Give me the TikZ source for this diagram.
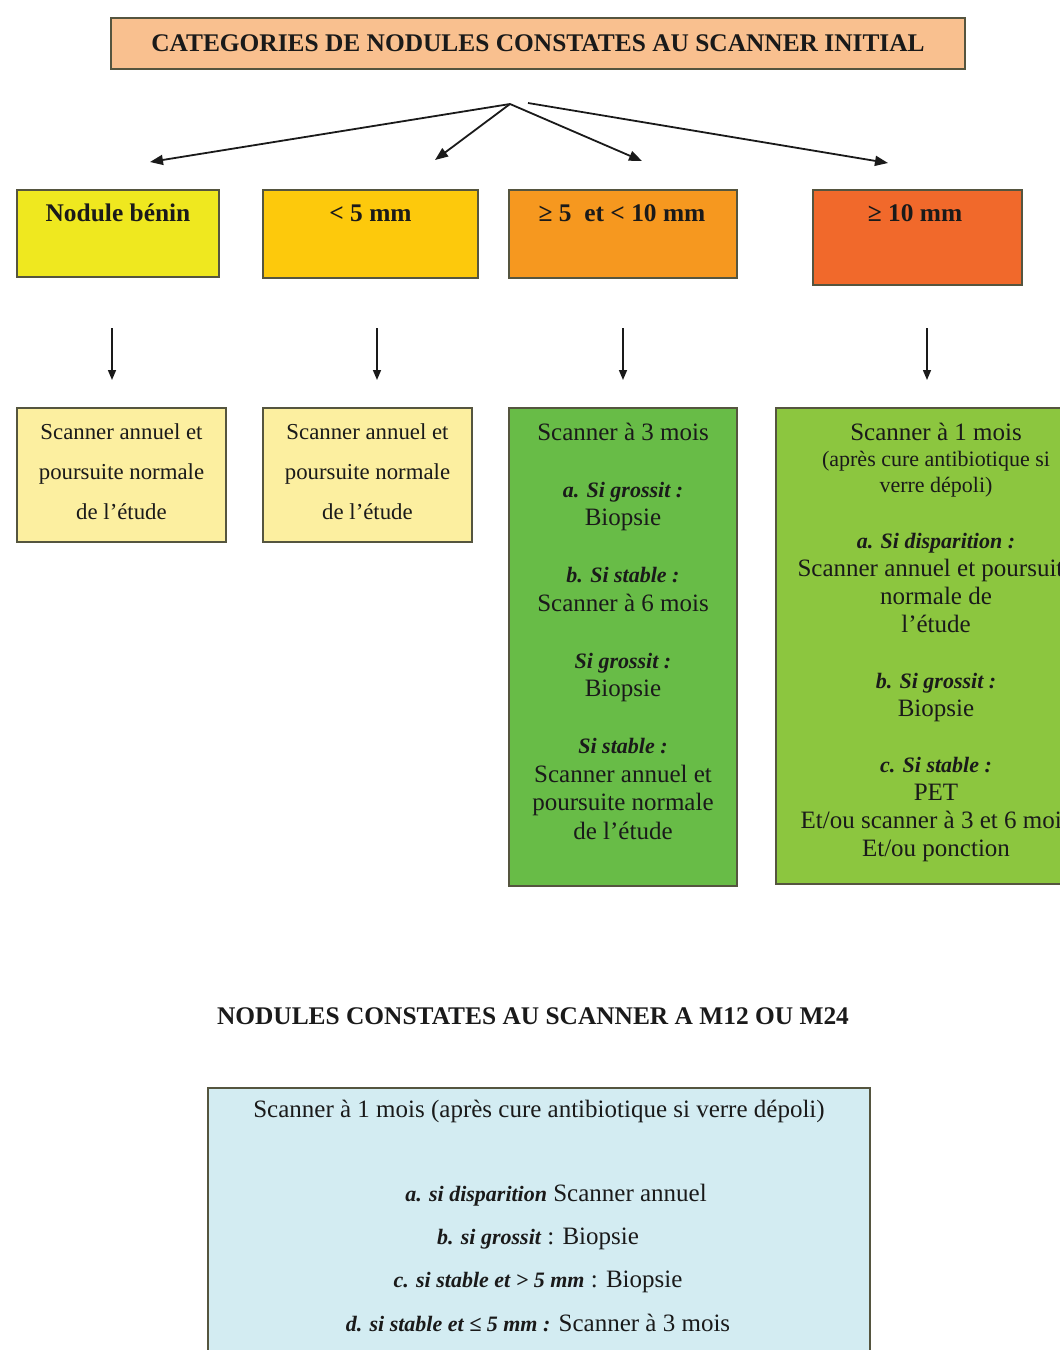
\documentclass[tikz,border=0pt]{standalone}
\usepackage{fontspec}
\setmainfont{Liberation Serif}
\usetikzlibrary{arrows.meta}
\definecolor{titlefill}{HTML}{F9C08F}
\definecolor{catA}{HTML}{EFE81F}
\definecolor{catB}{HTML}{FDC90C}
\definecolor{catC}{HTML}{F6981F}
\definecolor{catD}{HTML}{F1692B}
\definecolor{paleyel}{HTML}{FCEFA0}
\definecolor{greenC}{HTML}{68BC47}
\definecolor{greenD}{HTML}{8CC63F}
\definecolor{paleblue}{HTML}{D3ECF2}
\definecolor{edge}{HTML}{55553F}
\definecolor{ink}{HTML}{1A1A1A}
\newcommand\bitx[1]{{\fontsize{22}{28}\selectfont\bfseries\itshape #1}}
\begin{document}
\begin{tikzpicture}[x=1pt,y=-1pt,
  box/.style={draw=edge, line width=1.5pt, inner sep=0pt, outer sep=0pt},
  txt/.style={anchor=base, inner sep=0pt, align=center, text=ink},
  body/.style={font=\fontsize{25}{28.5}\selectfont},
  head/.style={font=\fontsize{25.4}{28}\selectfont\bfseries},
  fan/.style={line width=1.8pt, draw=ink, -{Triangle[length=13pt,width=10pt]}},
  downarr/.style={line width=1.5pt, draw=ink, -{Triangle[length=10pt,width=8pt]}}]
\clip (0,0) rectangle (1060,1350);
\useasboundingbox (0,0) rectangle (1060,1350);
\fill[white] (0,0) rectangle (1060,1350);

% title
\node[box, fill=titlefill, minimum width=854pt, minimum height=51pt] (title) at (538,43.5) {};
\node[txt, head] (titletxt) at (538,51) {CATEGORIES DE NODULES CONSTATES AU SCANNER INITIAL};

% fan arrows
\coordinate (hubA) at (510,104);
\coordinate (hubB) at (528,103);
\coordinate (endA) at (150,162);
\coordinate (endB) at (435,160);
\coordinate (endC) at (642,161);
\coordinate (endD) at (888,163);
\draw[fan] (hubA) -- (endA);
\draw[fan] (hubA) -- (endB);
\draw[fan] (hubA) -- (endC);
\draw[fan] (hubB) -- (endD);

% category boxes
\node[box, fill=catA, minimum width=202pt, minimum height=87pt] (catA) at (118,233.5) {};
\node[box, fill=catB, minimum width=215pt, minimum height=88pt] (catB) at (370.5,234) {};
\node[box, fill=catC, minimum width=228pt, minimum height=88pt] (catC) at (623,234) {};
\node[box, fill=catD, minimum width=209pt, minimum height=95pt] (catD) at (917.5,237.5) {};
\node[txt, head] (catAtxt) at (118,221) {Nodule bénin};
\node[txt, head] (catBtxt) at (370.5,221) {< 5 mm};
\node[txt, head] (catCtxt) at (622,221) {≥ 5\ \ et < 10 mm};
\node[txt, head] (catDtxt) at (915,221) {≥ 10 mm};

% down arrows
\coordinate (dA1) at (112,328); \coordinate (dA2) at (112,380);
\coordinate (dB1) at (377,328); \coordinate (dB2) at (377,380);
\coordinate (dC1) at (623,328); \coordinate (dC2) at (623,380);
\coordinate (dD1) at (927,328); \coordinate (dD2) at (927,380);
\draw[downarr] (dA1) -- (dA2);
\draw[downarr] (dB1) -- (dB2);
\draw[downarr] (dC1) -- (dC2);
\draw[downarr] (dD1) -- (dD2);

% outcome boxes
\node[box, fill=paleyel, minimum width=209pt, minimum height=134pt] (outA) at (121.5,475) {};
\node[box, fill=paleyel, minimum width=209pt, minimum height=134pt] (outB) at (367.5,475) {};
\node[box, fill=greenC, minimum width=228pt, minimum height=478pt] (outC) at (623,647) {};
\node[box, fill=greenD, minimum width=320pt, minimum height=476pt] (outD) at (936,646) {};

% multi-line nodes: base anchor = baseline of the last line
\node[txt, font=\fontsize{22.8}{40}\selectfont] (outAtxt) at (121.5,519)
  {Scanner annuel et\\poursuite normale\\de l’étude};
\node[txt, font=\fontsize{22.8}{40}\selectfont] (outBtxt) at (367.5,519)
  {Scanner annuel et\\poursuite normale\\de l’étude};
\node[txt, body] (outCtxt) at (623,839)
  {Scanner à 3 mois\\[28.5pt]
   \bitx{a. Si grossit :}\\
   Biopsie\\[28.5pt]
   \bitx{b. Si stable :}\\
   Scanner à 6 mois\\[28.5pt]
   \bitx{Si grossit :}\\
   Biopsie\\[28.5pt]
   \bitx{Si stable :}\\
   Scanner annuel et\\
   poursuite normale\\
   de l’étude};
\node[txt, body] (outDtop) at (936,440) {Scanner à 1 mois};
\node[txt, font=\fontsize{22}{26}\selectfont] (outDsub) at (936,492)
  {(après cure antibiotique si\\verre dépoli)};
\node[txt, font=\fontsize{25}{28}\selectfont] (outDtxt) at (936,856)
  {\bitx{a. Si disparition :}\\
   Scanner annuel et poursuite\\
   normale de\\
   l’étude\\[28pt]
   \bitx{b. Si grossit :}\\
   Biopsie\\[28pt]
   \bitx{c. Si stable :}\\
   PET\\
   Et/ou scanner à 3 et 6 mois\\
   Et/ou ponction};

% second part
\node[txt, head] (head2) at (533,1024) {NODULES CONSTATES AU SCANNER A M12 OU M24};
\node[box, fill=paleblue, minimum width=662pt, minimum height=340pt] (bottom) at (539,1258) {};
\node[txt, body] (botL0) at (539,1117) {Scanner à 1 mois (après cure antibiotique si verre dépoli)};
\node[txt, body] (botL1) at (556,1201) {\bitx{a. si disparition} Scanner annuel};
\node[txt, body] (botL2) at (538,1244) {\bitx{b. si grossit} : Biopsie};
\node[txt, body] (botL3) at (538,1287) {\bitx{c. si stable et > 5 mm} : Biopsie};
\node[txt, body] (botL4) at (538,1331) {\bitx{d. si stable et ≤ 5 mm :} Scanner à 3 mois};
\end{tikzpicture}
\end{document}
